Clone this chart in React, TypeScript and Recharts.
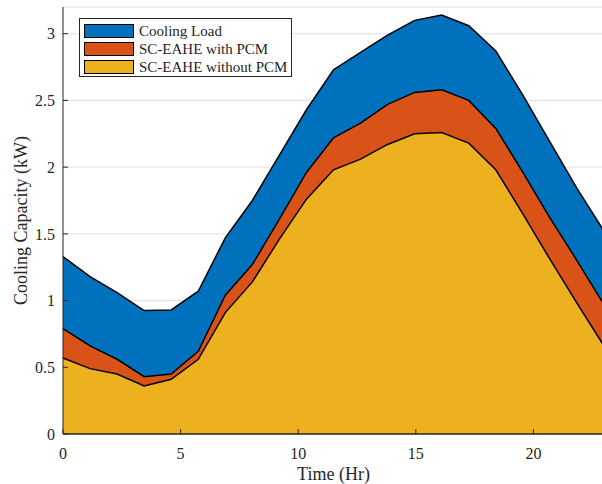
import React from "react";
import { AreaChart, Area, XAxis, YAxis, CartesianGrid, ReferenceLine } from "recharts";

// hours of the day (21 samples)
const hours = [0, 1.15, 2.3, 3.45, 4.6, 5.75, 6.9, 8.05, 9.2, 10.35, 11.5, 12.65, 13.8, 14.95, 16.1, 17.25, 18.4, 19.55, 20.7, 21.85, 23];
const coolingLoad = [1.33, 1.18, 1.06, 0.925, 0.93, 1.07, 1.47, 1.75, 2.09, 2.43, 2.73, 2.86, 2.99, 3.1, 3.14, 3.06, 2.87, 2.54, 2.19, 1.84, 1.52];
const withPcm = [0.79, 0.66, 0.56, 0.43, 0.45, 0.62, 1.04, 1.27, 1.61, 1.96, 2.22, 2.33, 2.47, 2.56, 2.58, 2.5, 2.29, 1.96, 1.62, 1.3, 0.97];
const withoutPcm = [0.57, 0.49, 0.45, 0.36, 0.41, 0.56, 0.91, 1.14, 1.46, 1.76, 1.98, 2.06, 2.17, 2.25, 2.26, 2.18, 1.98, 1.65, 1.31, 0.98, 0.66];

const xTicks = [0, 5, 10, 15, 20];
const yTicks = [0, 0.5, 1, 1.5, 2, 2.5, 3];

const seriesNames = ["Cooling Load", "SC-EAHE with PCM", "SC-EAHE without PCM"];
const colors = ["#0072BD", "#D95319", "#EDB120"];

const data = hours.map((h, i) => ({ hr: h, load: coolingLoad[i], pcm: withPcm[i], noPcm: withoutPcm[i] }));

const font = '"Liberation Serif", "Times New Roman", serif';
const ink = "#262626";

function LegendBox() {
  return (
    <div style={{ position: "absolute", left: 79, top: 18, border: `1px solid ${ink}`, background: "#fff", width: 207, height: 54, padding: "3px 0 0 4px", boxSizing: "content-box", fontFamily: font, fontSize: 15, color: ink }}>
      {seriesNames.map((n, i) => (
        <div key={n} style={{ display: "flex", alignItems: "center", height: 18 }}>
          <div style={{ width: 48, height: 12, background: colors[i], border: "1px solid #000", marginRight: 5 }} />
          <span style={{ lineHeight: "18px" }}>{n}</span>
        </div>
      ))}
    </div>
  );
}

export default function App() {
  return (
    <div style={{ position: "absolute", left: 0, top: 0, width: 602, height: 484, overflow: "hidden", background: "#fff" }}>
      <AreaChart width={606} height={484} data={data} margin={{ top: 7, right: 2, bottom: 0, left: 8 }}>
        <CartesianGrid vertical={false} stroke="#e0e0e0" strokeWidth={1} />
        <XAxis
          dataKey="hr"
          type="number"
          domain={[0, 23]}
          ticks={xTicks}
          height={50}
          tickSize={-5}
          tickMargin={19}
          stroke={ink}
          tick={{ fill: ink, fontSize: 16, fontFamily: font }}
          label={{ value: "Time (Hr)", position: "insideBottom", offset: 4, fill: ink, fontSize: 18, fontFamily: font }}
        />
        <XAxis xAxisId="top" orientation="top" dataKey="hr" type="number" domain={[0, 23]} ticks={xTicks} height={0} tickSize={-5} tick={false} stroke={ink} />
        <YAxis
          type="number"
          domain={[0, 3.2]}
          ticks={yTicks}
          width={55}
          tickSize={-5}
          tickMargin={13}
          stroke={ink}
          tick={{ fill: ink, fontSize: 16, fontFamily: font }}
          label={{ value: "Cooling Capacity (kW)", angle: -90, position: "insideLeft", offset: 13, fill: ink, fontSize: 18, fontFamily: font, style: { textAnchor: "middle" } }}
        />
        <YAxis yAxisId="right" orientation="right" domain={[0, 3.2]} ticks={yTicks} width={0} tickSize={-5} tick={false} stroke={ink} />
        <Area dataKey="load" type="linear" stroke="#000" strokeWidth={1.5} fill={colors[0]} fillOpacity={1} dot={false} activeDot={false} isAnimationActive={false} />
        <Area dataKey="pcm" type="linear" stroke="#000" strokeWidth={1.5} fill={colors[1]} fillOpacity={1} dot={false} activeDot={false} isAnimationActive={false} />
        <Area dataKey="noPcm" type="linear" stroke="#000" strokeWidth={1.5} fill={colors[2]} fillOpacity={1} dot={false} activeDot={false} isAnimationActive={false} />
        <ReferenceLine y={0} stroke={ink} />
      </AreaChart>
      <LegendBox />
    </div>
  );
}
